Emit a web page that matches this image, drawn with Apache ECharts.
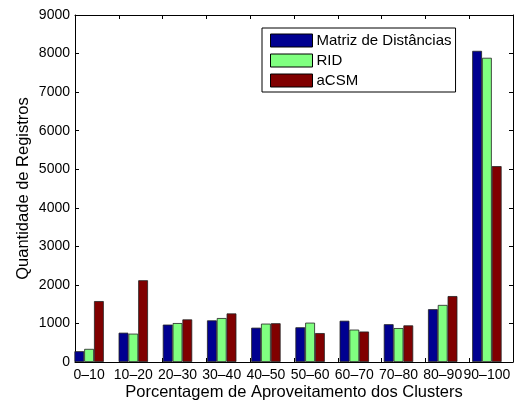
<!DOCTYPE html>
<html>
<head>
  <meta charset="utf-8">
  <title>Aproveitamento dos Clusters</title>
  <script src="https://cdn.jsdelivr.net/npm/echarts@6/dist/echarts.min.js"></script>
  <style>
    html, body { margin: 0; padding: 0; background: #fff; }
    #main { width: 519px; height: 403px; }
  </style>
</head>
<body>

<div id="main"></div>

<script>
  // faixas de aproveitamento
  const categories = ['0–10', '10–20', '20–30', '30–40', '40–50', '50–60', '60–70', '70–80', '80–90', '90–100'];

  // quantidade de registros por método
  const matriz = [280, 760, 970, 1080, 890, 900, 1070, 980, 1370, 8070];
  const rid = [340, 735, 1010, 1140, 995, 1020, 840, 880, 1480, 7890];
  const acsm = [1580, 2120, 1105, 1260, 1005, 750, 790, 950, 1710, 5080];

  const seriesNames = ['Matriz de Distâncias', 'RID', 'aCSM'];
  const colors = ['#000090', '#80ff80', '#800000'];

  const font = 'Liberation Sans, Arial, Helvetica, sans-serif';

  var myChart = echarts.init(document.getElementById('main'));

  // eixo de moldura (caixa estilo MATLAB)
  const frameX = {
    type: 'value',
    gridIndex: 0,
    min: 0,
    max: 10,
    interval: 1,
    axisLine: { show: true, onZero: false, lineStyle: { color: '#000', width: 1 } },
    axisTick: { show: true, inside: true, length: 4, lineStyle: { color: '#000' } },
    axisLabel: { show: false },
    splitLine: { show: false }
  };
  const frameY = {
    type: 'value',
    gridIndex: 0,
    min: 0,
    max: 9000,
    interval: 1000,
    axisLine: { show: true, onZero: false, lineStyle: { color: '#000', width: 1 } },
    axisTick: { show: true, inside: true, length: 4, lineStyle: { color: '#000' } },
    axisLabel: { show: false },
    splitLine: { show: false }
  };

  const bars = [matriz, rid, acsm].map(function (values, i) {
    return {
      name: seriesNames[i],
      type: 'bar',
      xAxisIndex: 2,
      yAxisIndex: 2,
      data: values,
      barWidth: 9.8,
      barGap: '0%',
      itemStyle: {
        color: colors[i],
        borderColor: '#222',
        borderWidth: 0.8
      }
    };
  });

  var option = {
    backgroundColor: '#fff',
    animation: false,
    textStyle: { fontFamily: font },
    grid: [
      { left: 75, right: 6, top: 15, bottom: 41, outerBoundsMode: 'none', containLabel: false },
      { left: 67, right: 10, top: 15, bottom: 41, outerBoundsMode: 'none', containLabel: false }
    ],
    legend: {
      data: seriesNames,
      orient: 'vertical',
      left: 262,
      top: 28,
      icon: 'rect',
      itemWidth: 42,
      itemHeight: 13,
      itemGap: 5,
      padding: [5, 4, 4, 8],
      borderColor: '#000',
      borderWidth: 1,
      backgroundColor: '#fff',
      textStyle: { fontFamily: font, fontSize: 15, color: '#000', padding: [0, 0, 0, -1] },
      itemStyle: { borderColor: '#000', borderWidth: 1 }
    },
    xAxis: [
      Object.assign({}, frameX, {
        position: 'bottom',
        name: 'Porcentagem de Aproveitamento dos Clusters',
        nameLocation: 'middle',
        nameGap: 22,
        nameMoveOverlap: false,
        nameTextStyle: { fontFamily: font, fontSize: 16.5, color: '#000' }
      }),
      Object.assign({}, frameX, { position: 'top' }),
      {
        type: 'category',
        gridIndex: 1,
        data: categories,
        boundaryGap: true,
        axisLine: { show: false },
        axisTick: { show: false },
        splitLine: { show: false },
        axisLabel: { interval: 0, fontFamily: font, fontSize: 14, color: '#000', margin: 6 }
      }
    ],
    yAxis: [
      Object.assign({}, frameY, {
        position: 'left',
        axisLabel: {
          show: true, fontFamily: font, fontSize: 14, color: '#000', margin: 5,
          formatter: function (v) { return String(v); }
        },
        name: 'Quantidade de Registros',
        nameLocation: 'middle',
        nameGap: 43,
        nameMoveOverlap: false,
        nameTextStyle: { fontFamily: font, fontSize: 16.5, color: '#000' }
      }),
      Object.assign({}, frameY, { position: 'right' }),
      {
        type: 'value',
        gridIndex: 1,
        min: 0,
        max: 9000,
        show: false
      }
    ],
    series: bars
  };

  myChart.setOption(option);
</script>
</body>
</html>
